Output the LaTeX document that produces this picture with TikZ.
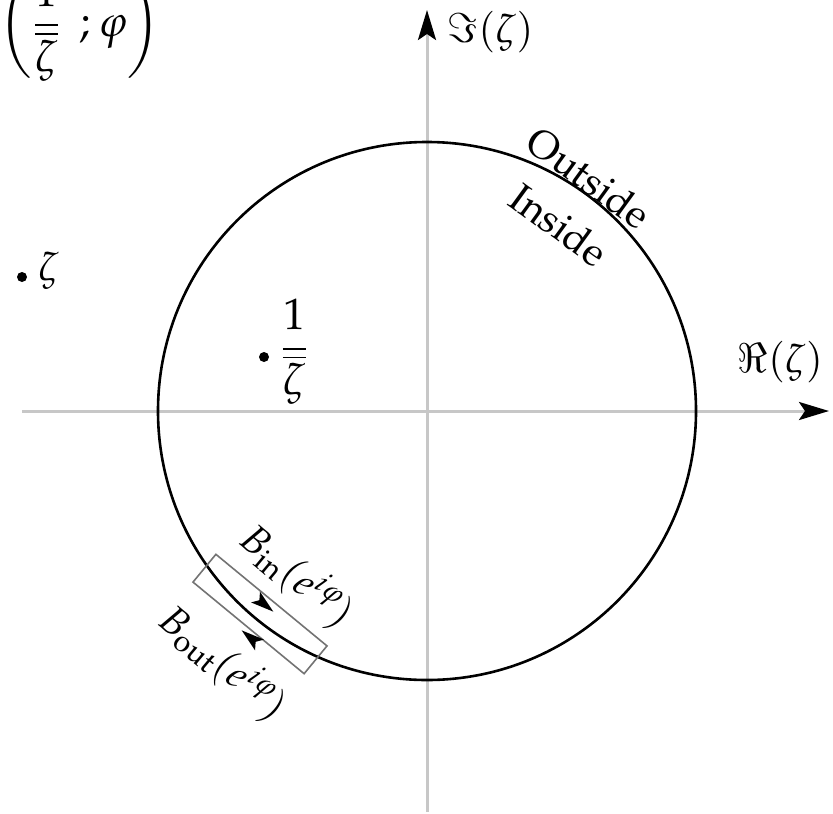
\documentclass[tikz,border=0pt]{standalone}
\usepackage[T1]{fontenc}
\usepackage{amsmath}
\usepackage{mathpazo}
\usetikzlibrary{arrows.meta}
\tikzset{
  axisline/.style={draw=black!22, line width=1.5pt, -{Stealth[length=15pt,width=9pt,inset=3pt,black]}},
  curve/.style={draw=black, line width=1.3pt},
  lab/.style={font=\fontsize{20}{24}\selectfont, inner sep=1pt},
  biglab/.style={font=\fontsize{22}{26}\selectfont, inner sep=1pt},
  dotnode/.style={circle, fill=black, inner sep=0pt, minimum size=5pt},
  boxnode/.style={draw=black!55, line width=0.8pt, minimum width=72pt, minimum height=18pt, inner sep=0pt},
  tipfill/.style={fill=black}
}
\begin{document}
\begin{tikzpicture}[x=0.5pt,y=-0.5pt]
\useasboundingbox (0,0) rectangle (833,813);
\coordinate (O) at (427,411);
\coordinate (xs) at (22,411);
\coordinate (xe) at (829,411);
\coordinate (ys) at (427,812);
\coordinate (ye) at (427,10);
\draw[axisline] (xs) -- (xe);
\draw[axisline] (ys) -- (ye);
\node[lab, anchor=west] (imlab) at (445,32) {$\Im(\zeta)$};
\node[lab] (relab) at (780,362) {$\Re(\zeta)$};
\draw[curve] (O) circle[radius=269];
\node[lab, rotate=-36] (out) at (589,178) {Outside};
\node[lab, rotate=-36] (in) at (559,225) {Inside};
% point zeta
\node[dotnode] (z) at (22,277) {};
\node[lab, anchor=west] (zl) at (36,271) {$\zeta$};
% point 1/bar zeta
\node[dotnode] (zi) at (264,357) {};
\node[biglab, anchor=west] (zil) at (278,352) {$\dfrac{1}{\overline{\zeta}}$};
% top-left
\node[biglab] (tl) at (80,27) {$\left(\dfrac{1}{\overline{\zeta}}\;\,;\varphi\right)$};
% box on the circle
\node[boxnode, rotate=-39.5] (bx) at (260,614) {};
\fill[tipfill, shift={(264,604)}, rotate=-39.5] (12,0) -- (-11,7) -- (-6,0) -- (-11,-7) -- cycle;
\fill[tipfill, shift={(251,638)}, rotate=140.5] (12,0) -- (-11,7) -- (-6,0) -- (-11,-7) -- cycle;
\node[lab, rotate=-40] (bin) at (297,576) {$B_{\mathrm{in}}(e^{i\varphi})$};
\node[lab, rotate=-40] (bout) at (223,663) {$B_{\mathrm{out}}(e^{i\varphi})$};
\end{tikzpicture}
\end{document}
